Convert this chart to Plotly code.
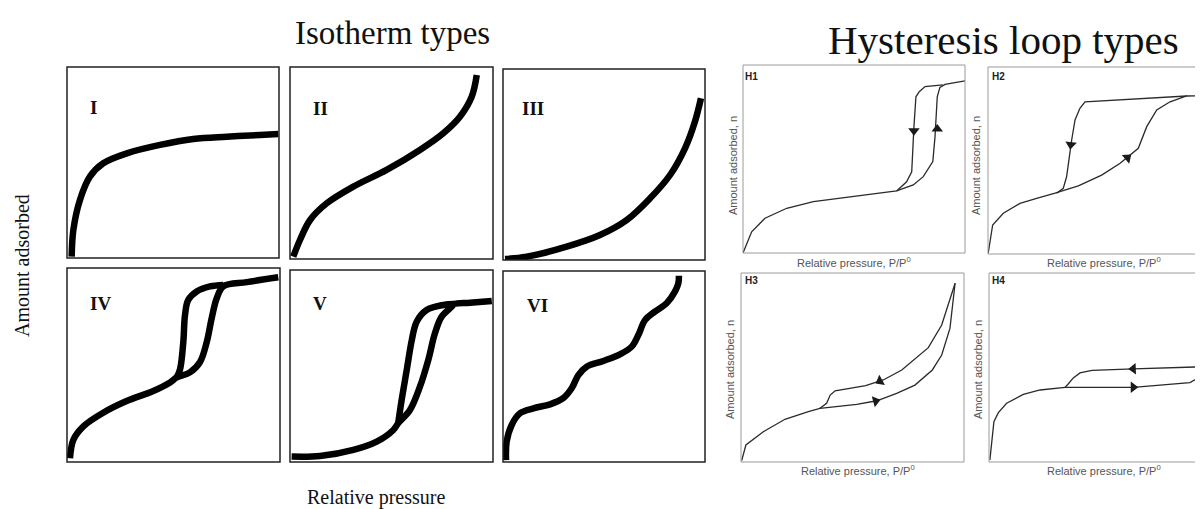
import plotly.graph_objects as go

W, H = 1203, 509
OFF = 8  # default page body margin of the html page

# ---------------- data (normalised: x = relative pressure, y = amount adsorbed) -------------
# Isotherm types
I_x = [0.022, 0.030, 0.061, 0.108, 0.171, 0.282, 0.439, 0.596, 0.753, 0.910, 0.997]
I_y = [0.007, 0.147, 0.304, 0.426, 0.496, 0.548, 0.592, 0.623, 0.635, 0.644, 0.649]

II_x = [0.016, 0.049, 0.099, 0.181, 0.312, 0.476, 0.640, 0.755, 0.837, 0.895, 0.920]
II_y = [0.012, 0.099, 0.203, 0.290, 0.377, 0.464, 0.568, 0.655, 0.741, 0.845, 0.958]

III_x = [0.010, 0.117, 0.315, 0.480, 0.612, 0.728, 0.827, 0.901, 0.950, 0.980]
III_y = [0.005, 0.017, 0.070, 0.131, 0.209, 0.323, 0.445, 0.585, 0.724, 0.847]

IV_ads_x = [0.014, 0.030, 0.077, 0.170, 0.280, 0.405, 0.484, 0.515, 0.577, 0.624, 0.656, 0.679, 0.703, 0.734, 0.844, 0.992]
IV_ads_y = [0.019, 0.115, 0.184, 0.254, 0.314, 0.366, 0.410, 0.436, 0.462, 0.514, 0.618, 0.740, 0.844, 0.905, 0.927, 0.952]
IV_des_x = [0.734, 0.671, 0.609, 0.569, 0.554, 0.546, 0.531, 0.515]
IV_des_y = [0.913, 0.905, 0.879, 0.835, 0.757, 0.618, 0.479, 0.436]

V_ads_x = [0.008, 0.148, 0.312, 0.427, 0.509, 0.533, 0.591, 0.640, 0.681, 0.714, 0.747, 0.797, 0.808, 0.887, 0.994]
V_ads_y = [0.028, 0.031, 0.063, 0.106, 0.167, 0.202, 0.271, 0.392, 0.531, 0.670, 0.757, 0.809, 0.823, 0.830, 0.839]
V_des_x = [0.808, 0.755, 0.673, 0.624, 0.600, 0.575, 0.550, 0.533]
V_des_y = [0.823, 0.818, 0.792, 0.731, 0.635, 0.479, 0.323, 0.202]

VI_x = [0.015, 0.018, 0.043, 0.084, 0.150, 0.233, 0.298, 0.340, 0.373, 0.414, 0.497, 0.579,
        0.637, 0.670, 0.703, 0.752, 0.810, 0.851, 0.868, 0.871]
VI_y = [0.010, 0.106, 0.194, 0.255, 0.281, 0.302, 0.334, 0.386, 0.455, 0.499, 0.529, 0.564,
        0.604, 0.665, 0.743, 0.787, 0.831, 0.892, 0.936, 0.975]

# Hysteresis loop types
H1_ads_x = [0.0, 0.039, 0.099, 0.197, 0.317, 0.497, 0.692, 0.767, 0.812, 0.855, 0.865, 0.875, 0.887, 0.910, 1.0]
H1_ads_y = [0.0, 0.113, 0.185, 0.238, 0.273, 0.299, 0.330, 0.362, 0.406, 0.486, 0.619, 0.831, 0.881, 0.897, 0.916]
H1_des_x = [0.900, 0.820, 0.794, 0.779, 0.770, 0.760, 0.737, 0.692]
H1_des_y = [0.894, 0.885, 0.858, 0.831, 0.672, 0.432, 0.379, 0.330]
H1_arrow_x = [0.770, 0.875]
H1_arrow_y = [0.650, 0.660]
H1_arrow_dir = [180, 0]

H2_ads_x = [0.001, 0.021, 0.069, 0.144, 0.219, 0.302, 0.407, 0.512, 0.595, 0.677, 0.715, 0.760, 0.820, 0.895, 1.0]
H2_ads_y = [0.004, 0.155, 0.218, 0.271, 0.298, 0.325, 0.364, 0.422, 0.485, 0.565, 0.681, 0.770, 0.814, 0.845, 0.848]
H2_des_x = [0.895, 0.437, 0.414, 0.392, 0.377, 0.366, 0.354, 0.339, 0.309]
H2_des_y = [0.845, 0.814, 0.779, 0.717, 0.610, 0.503, 0.413, 0.351, 0.325]
H2_arrow_x = [0.373, 0.628]
H2_arrow_y = [0.585, 0.515]
H2_arrow_dir = [187, 50]

H3_ads_x = [0.003, 0.022, 0.100, 0.197, 0.302, 0.354, 0.519, 0.609, 0.698, 0.780, 0.858, 0.900, 0.937, 0.952, 0.960]
H3_ads_y = [0.007, 0.090, 0.160, 0.226, 0.266, 0.284, 0.305, 0.324, 0.363, 0.407, 0.487, 0.566, 0.707, 0.857, 0.946]
H3_des_x = [0.960, 0.900, 0.840, 0.788, 0.721, 0.638, 0.559, 0.422, 0.400, 0.384, 0.354]
H3_des_y = [0.946, 0.725, 0.605, 0.554, 0.487, 0.434, 0.404, 0.377, 0.354, 0.311, 0.284]
H3_arrow_x = [0.623, 0.604]
H3_arrow_y = [0.428, 0.322]
H3_arrow_dir = [241, 75]

H4_ads_x = [0.004, 0.022, 0.042, 0.079, 0.154, 0.229, 0.341, 0.647, 0.901, 0.961, 0.990]
H4_ads_y = [0.011, 0.213, 0.261, 0.311, 0.358, 0.381, 0.395, 0.395, 0.420, 0.460, 0.510]
H4_des_x = [0.990, 0.960, 0.647, 0.462, 0.408, 0.378, 0.356, 0.341]
H4_des_y = [0.510, 0.504, 0.493, 0.485, 0.471, 0.445, 0.414, 0.395]
H4_arrow_x = [0.647, 0.647]
H4_arrow_y = [0.493, 0.395]
H4_arrow_dir = [-92, 90]

roman_labels = ["I", "II", "III", "IV", "V", "VI"]
h_labels = ["H1", "H2", "H3", "H4"]

# ---------------- layout geometry (page pixels: left, right, top, bottom) ----------------
iso_boxes = [(67, 279, 67, 258), (290, 493, 67, 259), (503, 705, 69, 260),
             (67, 280, 268, 462), (290, 493, 270, 462), (503, 705, 271, 462)]
h_boxes = [(743, 965, 65, 253), (988, 1210, 67, 254), (741, 964, 273, 462), (989, 1212, 273, 462)]
roman_pos = [(93, 107), (320, 108), (533, 108), (100, 303), (320, 303), (537, 305)]
hlab_pos = [(751, 76), (999, 76), (751, 280), (999, 280)]
hy_title_pos = [(733, 166), (976, 166), (730, 370), (978, 370)]
hx_title_pos = [(854, 262), (1104, 262), (858, 470), (1104, 470)]


def px(x):
    return (x - OFF) / W


def py(y):
    return 1 - (y - OFF) / H


fig = go.Figure()
layout_axes = {}
shapes = []
annotations = []


def add_panel(k, box):
    l, r, t, b = box
    vis_r = min(r, W)
    xr = (vis_r - l) / (r - l)
    xname = "xaxis" if k == 1 else f"xaxis{k}"
    yname = "yaxis" if k == 1 else f"yaxis{k}"
    layout_axes[xname] = dict(domain=[px(l), px(vis_r)], range=[0, xr], visible=False,
                              fixedrange=True, anchor="y" if k == 1 else f"y{k}")
    layout_axes[yname] = dict(domain=[py(b), py(t)], range=[0, 1], visible=False,
                              fixedrange=True, anchor="x" if k == 1 else f"x{k}")
    return ("x" if k == 1 else f"x{k}"), ("y" if k == 1 else f"y{k}")


iso_curves = [
    [(I_x, I_y)],
    [(II_x, II_y)],
    [(III_x, III_y)],
    [(IV_ads_x, IV_ads_y), (IV_des_x, IV_des_y)],
    [(V_ads_x, V_ads_y), (V_des_x, V_des_y)],
    [(VI_x, VI_y)],
]

for i, box in enumerate(iso_boxes):
    k = i + 1
    xa, ya = add_panel(k, box)
    for cx, cy in iso_curves[i]:
        fig.add_trace(go.Scatter(x=cx, y=cy, xaxis=xa, yaxis=ya, mode="lines",
                                 line=dict(color="black", width=6.5, shape="spline", smoothing=1.0),
                                 hoverinfo="skip", showlegend=False))
    l, r, t, b = box
    shapes.append(dict(type="rect", xref="paper", yref="paper", x0=px(l), x1=px(r),
                       y0=py(b), y1=py(t), line=dict(color="#222", width=1.5)))
    rx, ry = roman_pos[i]
    annotations.append(dict(x=px(rx), y=py(ry), xref="paper", yref="paper",
                            text="<b>" + roman_labels[i] + "</b>",
                            showarrow=False, xanchor="center", yanchor="middle",
                            font=dict(family="Liberation Serif", size=19, color="#111")))

h_curves = [
    (H1_ads_x, H1_ads_y, H1_des_x, H1_des_y, H1_arrow_x, H1_arrow_y, H1_arrow_dir),
    (H2_ads_x, H2_ads_y, H2_des_x, H2_des_y, H2_arrow_x, H2_arrow_y, H2_arrow_dir),
    (H3_ads_x, H3_ads_y, H3_des_x, H3_des_y, H3_arrow_x, H3_arrow_y, H3_arrow_dir),
    (H4_ads_x, H4_ads_y, H4_des_x, H4_des_y, H4_arrow_x, H4_arrow_y, H4_arrow_dir),
]

for j, box in enumerate(h_boxes):
    k = 7 + j
    xa, ya = add_panel(k, box)
    ax_, ay_, dx_, dy_, arx, ary, ard = h_curves[j]
    for cx, cy in ((ax_, ay_), (dx_, dy_)):
        fig.add_trace(go.Scatter(x=cx, y=cy, xaxis=xa, yaxis=ya, mode="lines",
                                 line=dict(color="#2a2a2a", width=1.3),
                                 hoverinfo="skip", showlegend=False))
    fig.add_trace(go.Scatter(x=arx, y=ary, xaxis=xa, yaxis=ya, mode="markers",
                             marker=dict(symbol="triangle-up", size=10, color="#1a1a1a",
                                         angle=ard, line=dict(width=0)),
                             hoverinfo="skip", showlegend=False))
    l, r, t, b = box
    shapes.append(dict(type="rect", xref="paper", yref="paper", x0=px(l), x1=px(r),
                       y0=py(b), y1=py(t), line=dict(color="#9a9a9a", width=1)))
    lx, ly = hlab_pos[j]
    annotations.append(dict(x=px(lx), y=py(ly), xref="paper", yref="paper",
                            text="<b>" + h_labels[j] + "</b>", showarrow=False,
                            xanchor="center", yanchor="middle",
                            font=dict(family="Liberation Sans", size=10, color="#222")))
    tx, ty = hy_title_pos[j]
    annotations.append(dict(x=px(tx), y=py(ty), xref="paper", yref="paper",
                            text="Amount adsorbed, n", textangle=-90, showarrow=False,
                            xanchor="center", yanchor="middle",
                            font=dict(family="Liberation Sans", size=11, color="#555")))
    tx, ty = hx_title_pos[j]
    annotations.append(dict(x=px(tx), y=py(ty), xref="paper", yref="paper",
                            text="Relative pressure, P/P<sup>0</sup>", showarrow=False,
                            xanchor="center", yanchor="middle",
                            font=dict(family="Liberation Sans", size=11, color="#555")))

# big titles
annotations += [
    dict(x=px(392), y=py(33), xref="paper", yref="paper", text="Isotherm types", showarrow=False,
         xanchor="center", yanchor="middle", font=dict(family="Liberation Serif", size=33, color="#111")),
    dict(x=px(1003), y=py(40), xref="paper", yref="paper", text="Hysteresis loop types", showarrow=False,
         xanchor="center", yanchor="middle", font=dict(family="Liberation Serif", size=41, color="#111")),
    dict(x=px(22), y=py(266), xref="paper", yref="paper", text="Amount adsorbed", textangle=-90,
         showarrow=False, xanchor="center", yanchor="middle",
         font=dict(family="Liberation Serif", size=20, color="#111")),
    dict(x=px(376), y=py(497), xref="paper", yref="paper", text="Relative pressure", showarrow=False,
         xanchor="center", yanchor="middle", font=dict(family="Liberation Serif", size=20, color="#111")),
]

fig.update_layout(
    width=W, height=H,
    margin=dict(l=0, r=0, t=0, b=0),
    paper_bgcolor="white", plot_bgcolor="white",
    shapes=shapes, annotations=annotations,
    showlegend=False,
    **layout_axes,
)

fig.write_html("out.html", config={"displayModeBar": False})
